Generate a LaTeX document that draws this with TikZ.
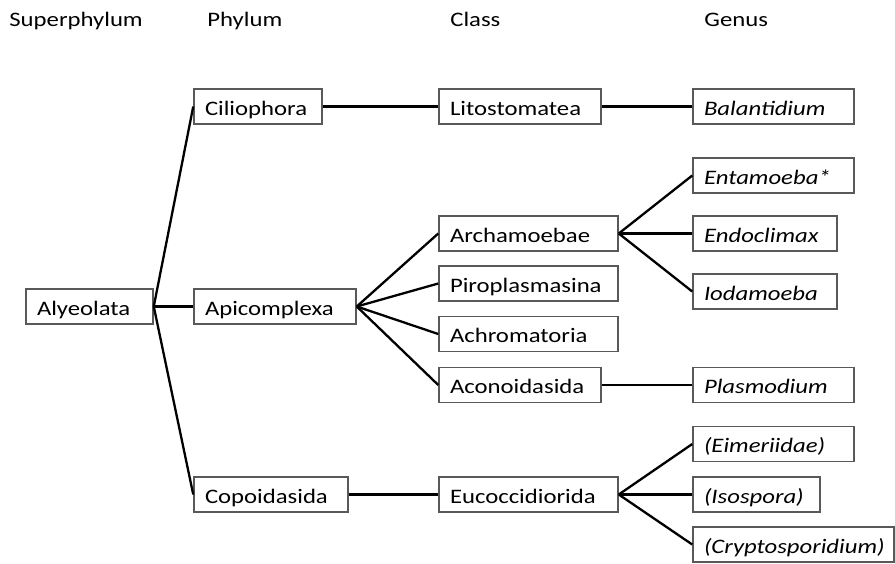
\documentclass[tikz,border=0pt]{standalone}
\usepackage{fontspec}
\setmainfont{Carlito}[FakeStretch=1.2]
\begin{document}
\begin{tikzpicture}[x=0.5pt,y=-0.5pt,
  box/.style={draw=black!65, line width=0.75pt, rectangle, inner xsep=5.5pt, inner ysep=0pt,
    minimum height=17.5pt, text height=11pt, text depth=2.5pt, align=left,
    font=\fontsize{10.3}{12}\selectfont},
  head/.style={anchor=base west, inner sep=0pt, font=\fontsize{10.3}{12}\selectfont},
  link/.style={line width=1.15pt, black}]
\useasboundingbox (0,0) rectangle (895,563);

% column headings
\node[head] (hsup) at (9,26) {Superphylum};
\node[head] (hphy) at (207,26) {Phylum};
\node[head] (hcla) at (450,26) {Class};
\node[head] (hgen) at (704,26) {Genus};

% superphylum and phyla
\node[box, text width=52.5pt] (alv) at (89.5,306.5) {Alyeolata};
\node[box, text width=53pt]   (cil) at (258,106.5) {Ciliophora};
\node[box, text width=70pt]   (api) at (275,306.5) {Apicomplexa};
\node[box, text width=66pt]   (cop) at (271,494.5) {Copoidasida};

% classes
\node[box, text width=70pt]   (lit) at (520,106.5) {Litostomatea};
\node[box, text width=78.5pt] (arc) at (528.5,233.5) {Archamoebae};
\node[box, text width=78.5pt] (pir) at (528.5,283.5) {Piroplasmasina};
\node[box, text width=78.5pt] (ach) at (528.5,334) {Achromatoria};
\node[box, text width=70pt]   (aco) at (520,385) {Aconoidasida};
\node[box, text width=78.5pt] (euc) at (528.5,494.5) {Eucoccidiorida};

% genera
\node[box, text width=69.5pt] (bal) at (773.5,106.5) {\textit{Balantidium}};
\node[box, text width=69.5pt] (ent) at (773.5,175.5) {\textit{Entamoeba*}};
\node[box, text width=61pt]   (edo) at (765,233.5) {\textit{Endoclimax}};
\node[box, text width=61pt]   (iod) at (765,291.5) {\textit{Iodamoeba}};
\node[box, text width=69.5pt] (pla) at (773.5,385) {\textit{Plasmodium}};
\node[box, text width=69.5pt] (eim) at (773.5,444) {\textit{(Eimeriidae)}};
\node[box, text width=52.5pt] (iso) at (756.5,494.5) {\textit{(Isospora)}};
\node[box, text width=89.5pt] (cry) at (793.5,544.5) {\textit{(Cryptosporidium)}};

% branches
\draw[link] (cil.west) -- (alv.east) -- (cop.west);
\draw[link] (alv.east) -- (api.west);
\draw[link] (cil.east) -- (lit.west);
\draw[link] (lit.east) -- (bal.west);
\foreach \c in {arc,pir,ach,aco} \draw[link] (api.east) -- (\c.west);
\foreach \g in {ent,edo,iod} \draw[link] (arc.east) -- (\g.west);
\draw[link] (aco.east) -- (pla.west);
\draw[link] (cop.east) -- (euc.west);
\foreach \g in {eim,iso,cry} \draw[link] (euc.east) -- (\g.west);
\end{tikzpicture}
\end{document}
